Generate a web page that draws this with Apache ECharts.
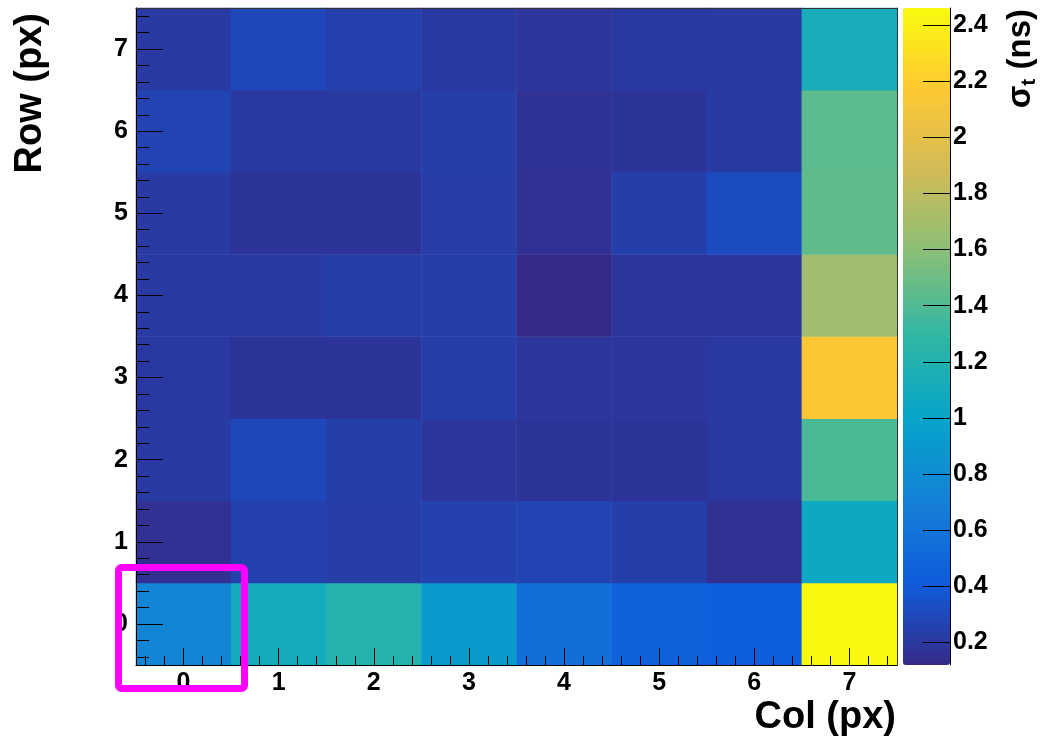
<!DOCTYPE html>
<html>
<head>
<meta charset="utf-8">
<script src="https://cdn.jsdelivr.net/npm/echarts@6.0.0/dist/echarts.min.js"></script>
<style>
  html, body { margin: 0; padding: 0; background: #fff; }
  #chart { width: 1049px; height: 736px; }
</style>
</head>
<body>
<div id="chart"></div>
<script>
// pixel columns / rows
var cols = ['0', '1', '2', '3', '4', '5', '6', '7']
var rows = ['0', '1', '2', '3', '4', '5', '6', '7']

// sigma_t (ns), one array per row, col 0..7
var sigmaRow0 = [0.75, 1.10, 1.21, 0.92, 0.56, 0.45, 0.43, 2.45]
var sigmaRow1 = [0.16, 0.25, 0.23, 0.26, 0.27, 0.24, 0.16, 1.06]
var sigmaRow2 = [0.22, 0.29, 0.24, 0.19, 0.18, 0.18, 0.21, 1.38]
var sigmaRow3 = [0.21, 0.18, 0.18, 0.24, 0.19, 0.19, 0.21, 2.15]
var sigmaRow4 = [0.22, 0.22, 0.24, 0.24, 0.12, 0.19, 0.19, 1.68]
var sigmaRow5 = [0.22, 0.18, 0.18, 0.23, 0.16, 0.24, 0.31, 1.45]
var sigmaRow6 = [0.27, 0.21, 0.21, 0.24, 0.17, 0.18, 0.22, 1.44]
var sigmaRow7 = [0.22, 0.29, 0.25, 0.21, 0.19, 0.21, 0.22, 1.13]

// axis ticks
var majorTicks = [0, 1, 2, 3, 4, 5, 6, 7]
var minorTicks = [-0.4, -0.2, 0.2, 0.4, 0.6, 0.8, 1.2, 1.4, 1.6, 1.8, 2.2, 2.4, 2.6, 2.8,
  3.2, 3.4, 3.6, 3.8, 4.2, 4.4, 4.6, 4.8, 5.2, 5.4, 5.6, 5.8, 6.2, 6.4, 6.6, 6.8, 7.2, 7.4]
var zTicks = [0.2, 0.4, 0.6, 0.8, 1, 1.2, 1.4, 1.6, 1.8, 2, 2.2, 2.4]
var zMin = 0.12
var zMax = 2.46

// ROOT kBird palette
var bird = ['#352a87', '#0f5cdd', '#1481d6', '#06a4ca', '#2eb7a4', '#87bf77', '#d1bb59', '#fec832', '#f9fb0e']

var sigmaRows = [sigmaRow0, sigmaRow1, sigmaRow2, sigmaRow3, sigmaRow4, sigmaRow5, sigmaRow6, sigmaRow7]
var data = []
sigmaRows.forEach(function (row, y) {
  row.forEach(function (v, x) { data.push([x, y, v]) })
})

var font = 'Liberation Sans'
var black = '#000'

function tickAxis(extra) {
  var base = {
    type: 'value', gridIndex: 0, min: -0.5, max: 7.5, z: 5,
    axisLine: { show: false, onZero: false, lineStyle: { color: black, width: 1 } },
    axisTick: { show: false },
    axisLabel: { show: false },
    splitLine: { show: false }
  }
  return Object.assign(base, extra)
}

var chart = echarts.init(document.getElementById('chart'))
var option = {
  animation: false,
  backgroundColor: '#fff',
  grid: [
    { left: 136, top: 8, width: 761, height: 657 },
    { left: 903, top: 8, width: 47, height: 657 }
  ],
  xAxis: [
    { type: 'category', data: cols, gridIndex: 0, show: false },
    tickAxis({
      position: 'bottom',
      axisLine: { show: true, onZero: false, lineStyle: { color: black, width: 1 } },
      axisTick: { show: true, inside: true, length: 17, customValues: majorTicks, lineStyle: { color: black } },
      axisLabel: { show: true, customValues: majorTicks, margin: 6, color: black, fontFamily: font, fontWeight: 'bold', fontSize: 25 }
    }),
    tickAxis({
      position: 'bottom',
      axisTick: { show: true, inside: true, length: 9, customValues: minorTicks, lineStyle: { color: black } }
    }),
    tickAxis({
      position: 'top',
      axisLine: { show: true, onZero: false, lineStyle: { color: '#333', width: 1 } }
    }),
    { type: 'value', gridIndex: 1, min: 0, max: 1, show: false }
  ],
  yAxis: [
    { type: 'category', data: rows, gridIndex: 0, show: false },
    tickAxis({
      position: 'left',
      axisLine: { show: true, onZero: false, lineStyle: { color: black, width: 1 } },
      axisTick: { show: true, inside: true, length: 27, customValues: majorTicks, lineStyle: { color: black } },
      axisLabel: { show: true, customValues: majorTicks, margin: 8, color: black, fontFamily: font, fontWeight: 'bold', fontSize: 25 }
    }),
    tickAxis({
      position: 'left',
      axisTick: { show: true, inside: true, length: 13, customValues: minorTicks, lineStyle: { color: black } }
    }),
    tickAxis({
      position: 'right',
      axisLine: { show: true, onZero: false, lineStyle: { color: '#333', width: 1 } }
    }),
    {
      type: 'value', gridIndex: 1, position: 'right', min: zMin, max: zMax, z: 10,
      axisLine: { show: true, onZero: false, lineStyle: { color: black, width: 1 } },
      axisTick: { show: true, inside: true, length: 27, customValues: zTicks, lineStyle: { color: black } },
      axisLabel: { show: true, customValues: zTicks, margin: 3, color: black, fontFamily: font, fontWeight: 'bold', fontSize: 25 },
      splitLine: { show: false }
    }
  ],
  visualMap: {
    type: 'continuous',
    min: zMin,
    max: zMax,
    seriesIndex: 0,
    dimension: 2,
    calculable: false,
    hoverLink: false,
    orient: 'vertical',
    left: 903,
    top: 8,
    padding: 0,
    itemWidth: 47,
    itemHeight: 657,
    inRange: { color: bird }
  },
  series: [{
    type: 'heatmap',
    xAxisIndex: 0,
    yAxisIndex: 0,
    data: data,
    emphasis: { disabled: true }
  }],
  graphic: [
    {
      type: 'text', x: 31, y: 13, rotation: Math.PI / 2, z: 50,
      style: { text: 'Row (px)', fill: black, fontFamily: font, fontWeight: 'bold', fontSize: 38, align: 'right', verticalAlign: 'middle' }
    },
    {
      type: 'text', x: 896, y: 718, z: 50,
      style: { text: 'Col (px)', fill: black, fontFamily: font, fontWeight: 'bold', fontSize: 38, align: 'right', verticalAlign: 'middle' }
    },
    {
      type: 'text', x: 1021, y: 9, rotation: Math.PI / 2, z: 50,
      style: {
        text: '{a|σ}{b|t}{a| (ns)}',
        fill: black, align: 'right', verticalAlign: 'middle',
        rich: {
          a: { fontFamily: font, fontWeight: 'bold', fontSize: 33, lineHeight: 37, fill: black },
          b: { fontFamily: font, fontWeight: 'bold', fontSize: 21, verticalAlign: 'bottom', fill: black }
        }
      }
    },
    {
      type: 'rect', z: 100,
      shape: { x: 118.5, y: 567.5, width: 126, height: 121, r: 3 },
      style: { fill: 'none', stroke: '#ff00ff', lineWidth: 7 }
    }
  ]
}

option && chart.setOption(option)
</script>
</body>
</html>
